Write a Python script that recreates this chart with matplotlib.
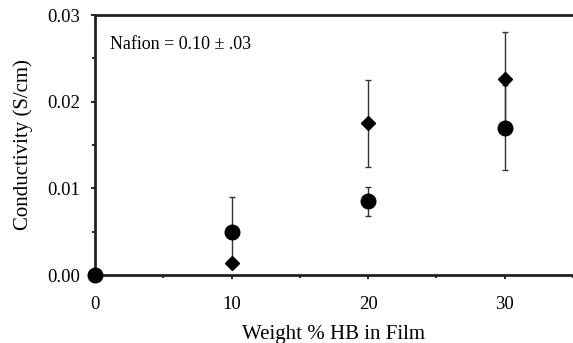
import matplotlib
matplotlib.use("Agg")
import matplotlib.pyplot as plt
from matplotlib.ticker import MultipleLocator

plt.rcParams['font.family'] = ['Liberation Serif', 'DejaVu Serif']

# data
circle_x = [0, 10, 20, 30]
circle_y = [0.0, 0.0050, 0.0085, 0.0170]
circle_err = [0.0, 0.0040, 0.0017, 0.0049]

diamond_x = [10, 20, 30]
diamond_y = [0.0014, 0.0175, 0.0226]
diamond_err = [0.0, 0.0050, 0.0054]

x_ticks = [0, 10, 20, 30]
y_ticks = [0.00, 0.01, 0.02, 0.03]

fig = plt.figure(figsize=(5.73, 3.43), dpi=100)
ax = fig.add_axes([95 / 573, 68 / 343, 1 - 95 / 573, 260 / 343])

ax.errorbar(circle_x, circle_y, yerr=circle_err, fmt='o', color='black',
            markersize=10.5, ecolor='#333333', elinewidth=1, capsize=2.5,
            capthick=1, clip_on=False, zorder=3)
ax.errorbar(diamond_x, diamond_y, yerr=diamond_err, fmt='D', color='black',
            markersize=7.5, ecolor='#333333', elinewidth=1, capsize=2.5,
            capthick=1, clip_on=False, zorder=3)

ax.set_xlim(0, 35)
ax.set_ylim(0, 0.03)
ax.set_xticks(x_ticks)
ax.set_yticks(y_ticks)
ax.set_yticklabels([f"{v:.2f}" for v in y_ticks])
ax.xaxis.set_minor_locator(MultipleLocator(5))
ax.yaxis.set_minor_locator(MultipleLocator(0.005))
ax.tick_params(axis='both', which='major', direction='out', length=3,
               width=1.2, labelsize=13.5)
ax.tick_params(axis='x', which='major', pad=12)
ax.tick_params(axis='y', which='major', pad=8)
ax.tick_params(axis='both', which='minor', direction='out', length=2.5,
               width=1.2)

for side in ['left', 'bottom', 'top']:
    ax.spines[side].set_linewidth(2)
    ax.spines[side].set_color('#222222')
ax.spines['right'].set_visible(False)

ax.set_xlabel("Weight % HB in Film", fontsize=15, labelpad=9)
ax.set_ylabel("Conductivity (S/cm)", fontsize=15, labelpad=10)

ax.text(0.031, 0.888, "Nafion = 0.10 \u00b1 .03", transform=ax.transAxes,
        fontsize=13, va='center', ha='left')

fig.savefig("out.png", dpi=100)
